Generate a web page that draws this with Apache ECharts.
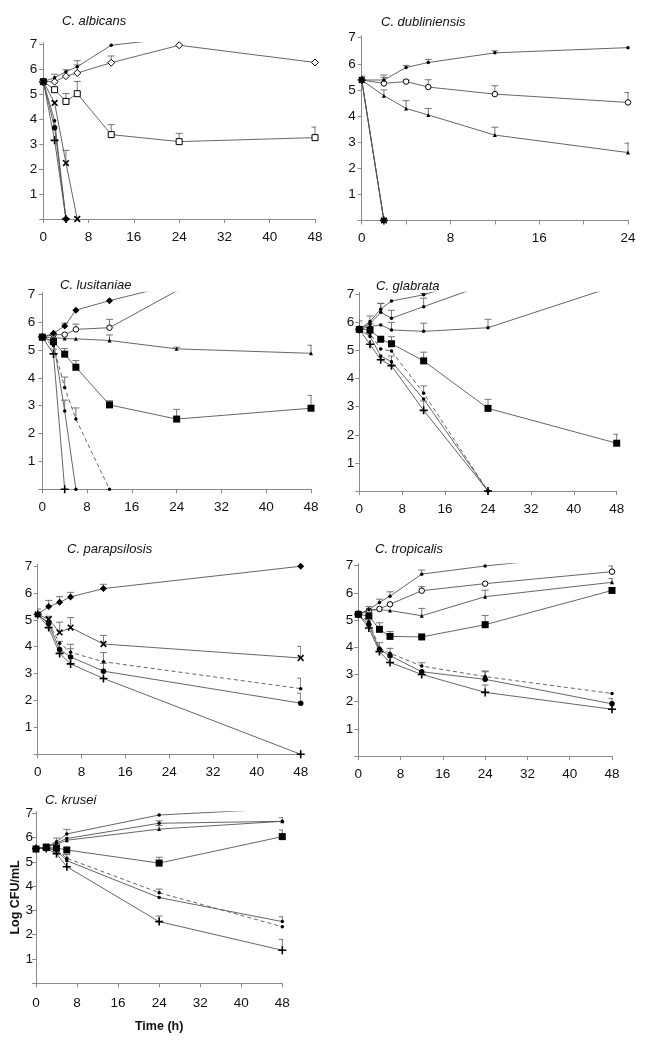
<!DOCTYPE html>
<html><head><meta charset="utf-8">
<script src="https://cdn.jsdelivr.net/npm/echarts@6/dist/echarts.min.js"></script>
<style>html,body{margin:0;padding:0;background:#fff}#c{width:652px;height:1043px}</style>
</head><body><div id="c"></div>
<script>
// ---------- DATA (Log CFU/mL vs time, h) ----------
// C. albicans
const albT = [0, 2, 4, 6, 12, 24, 48];
const albDot = [5.5, 5.66, 5.9, 6.1, 6.96, 7.27, 7.5];
const albDotErr = [null, null, 0.08, 0.24, null, null, null];
const albODia = [5.5, 5.5, 5.72, 5.85, 6.26, 6.96, 6.27];
const albODiaErr = [null, 0.3, null, 0.32, 0.27, null, null];
const albOSq = [5.5, 5.18, 4.71, 5.02, 3.38, 3.1, 3.26];
const albOSqErr = [null, null, 0.32, 0.49, 0.4, 0.33, 0.42];
const albX = [5.5, 4.65, 2.24, 0];
const albXErr = [null, null, 0.51, null];
const albCirc = [5.5, 3.66, 0];
const albDot2 = [5.5, 3.94, 0];
const albPlus = [5.5, 3.15, 0];

// C. dubliniensis
const dubT = [0, 2, 4, 6, 12, 24];
const dubDot = [5.38, 5.38, 5.86, 6.05, 6.42, 6.62];
const dubDotErr = [null, 0.19, 0.08, 0.12, 0.08, null];
const dubOCirc = [5.38, 5.25, 5.32, 5.11, 4.84, 4.52];
const dubOCircErr = [0.15, 0.23, 0.06, 0.28, 0.32, 0.38];
const dubTri = [5.38, 4.78, 4.29, 4.04, 3.27, 2.6];
const dubTriErr = [null, 0.22, 0.3, 0.25, 0.3, 0.36];
const dubX = [5.38, 0];
const dubPlus = [5.38, 0];
const dubCirc = [5.38, 0];

// C. lusitaniae
const lusT = [0, 2, 4, 6, 12, 24, 48];
const lusDia = [5.46, 5.6, 5.86, 6.43, 6.77, 7.37, 7.6];
const lusDiaErr = [null, null, 0.1, null, null, null, null];
const lusOCirc = [5.46, 5.55, 5.55, 5.74, 5.8, 7.12, 7.5];
const lusOCircErr = [null, null, null, 0.19, 0.3, null, null];
const lusTri = [5.46, 5.45, 5.41, 5.4, 5.34, 5.04, 4.88];
const lusTriErr = [null, null, null, null, 0.2, 0.06, 0.29];
const lusSq = [5.46, 5.3, 4.85, 4.38, 3.03, 2.52, 2.91];
const lusSqErr = [null, null, 0.2, 0.24, 0.15, 0.35, 0.46];
const lusPlus = [5.46, 4.86, 0];
const lusPlusErr = [null, 0.17, null];
const lusDot = [5.46, 5.3, 2.81, 0];
const lusDotErr = [null, null, 0.39, null];
const lusDash = [5.46, 5.15, 3.65, 2.52, 0];
const lusDashErr = [null, null, 0.38, 0.4, null];

// C. glabrata
const glaT = [0, 2, 4, 6, 12, 24, 48];
const glaDotA = [5.75, 6.03, 6.47, 6.76, 6.98, 7.7, 8.0];
const glaDotAErr = [null, 0.2, 0.2, null, 0.05, null, null];
const glaDotB = [5.75, 5.95, 6.36, 6.15, 6.56, 7.38, 7.6];
const glaDotBErr = [null, null, 0.32, 0.28, 0.3, null, null];
const glaDotC = [5.75, 5.85, 5.91, 5.73, 5.68, 5.81, 7.31];
const glaDotCErr = [null, null, null, 0.27, 0.29, 0.3, null];
const glaSq = [5.75, 5.73, 5.4, 5.24, 4.63, 2.94, 1.7];
const glaSqErr = [0.3, 0.22, null, 0.25, 0.31, 0.32, 0.32];
const glaDash = [5.75, 5.6, 5.05, 4.98, 3.48, 0];
const glaDashErr = [null, null, null, null, 0.26, null];
const glaDot = [5.75, 5.5, 4.8, 4.6, 3.27, 0];
const glaDotErr = [null, null, null, 0.2, null, null];
const glaPlus = [5.75, 5.22, 4.67, 4.46, 2.87, 0];
const glaPlusErr = [null, null, null, null, 0.33, null];

// C. parapsilosis
const parT = [0, 2, 4, 6, 12, 48];
const parDia = [5.2, 5.49, 5.65, 5.85, 6.16, 6.99];
const parDiaErr = [0.2, 0.23, 0.21, 0.17, 0.16, null];
const parX = [5.2, 5.02, 4.53, 4.71, 4.1, 3.58];
const parXErr = [null, null, 0.38, 0.37, 0.32, 0.43];
const parDash = [5.2, 4.88, 4.13, 3.79, 3.44, 2.44];
const parDashErr = [null, 0.25, null, 0.3, 0.34, 0.39];
const parCirc = [5.2, 4.86, 3.9, 3.62, 3.09, 1.9];
const parCircErr = [null, null, 0.3, 0.3, 0.29, 0.37];
const parPlus = [5.2, 4.71, 3.75, 3.36, 2.82, 0];

// C. tropicalis
const troT = [0, 2, 4, 6, 12, 24, 48];
const troDot = [5.21, 5.38, 5.65, 5.88, 6.69, 6.99, 7.46];
const troDotErr = [null, null, 0.12, 0.16, 0.15, null, null];
const troOCirc = [5.21, 5.35, 5.41, 5.58, 6.08, 6.34, 6.78];
const troOCircErr = [null, 0.15, null, null, 0.15, null, 0.21];
const troTri = [5.21, 5.37, 5.38, 5.35, 5.16, 5.86, 6.39];
const troTriErr = [null, null, null, null, 0.27, 0.24, 0.14];
const troSq = [5.21, 5.15, 4.66, 4.4, 4.38, 4.83, 6.09];
const troSqErr = [null, null, 0.24, 0.18, null, 0.34, null];
const troDash = [5.21, 4.95, 3.97, 3.78, 3.31, 2.92, 2.3];
const troDashErr = [null, null, 0.2, null, 0.12, 0.21, null];
const troCirc = [5.21, 4.84, 3.92, 3.69, 3.1, 2.82, 1.92];
const troCircErr = [null, null, null, 0.27, null, 0.28, 0.2];
const troPlus = [5.21, 4.71, 3.84, 3.44, 3.0, 2.34, 1.72];
const troPlusErr = [null, null, null, null, null, 0.27, null];

// C. krusei
const kruT = [0, 2, 4, 6, 24, 48];
const kruDotA = [5.55, 5.62, 5.83, 6.15, 6.93, 7.19];
const kruDotAErr = [null, null, 0.15, 0.19, null, null];
const kruDotB = [5.55, 5.6, 5.78, 5.96, 6.59, 6.67];
const kruDotBErr = [null, null, null, null, 0.1, 0.15];
const kruTri = [5.55, 5.6, 5.72, 5.89, 6.35, 6.67];
const kruTriErr = [null, 0.15, null, null, 0.15, null];
const kruSq = [5.53, 5.59, 5.57, 5.49, 4.95, 6.04];
const kruSqErr = [null, 0.1, 0.2, null, 0.24, 0.27];
const kruDash = [5.55, 5.58, 5.5, 5.15, 3.73, 2.33];
const kruDashErr = [null, null, null, 0.15, 0.15, null];
const kruDot = [5.55, 5.58, 5.45, 5.05, 3.53, 2.54];
const kruDotErr = [null, null, null, null, null, 0.2];
const kruPlus = [5.55, 5.55, 5.34, 4.8, 2.54, 1.36];
const kruPlusErr = [null, null, null, null, 0.23, 0.45];

const yTickValues = [0, 1, 2, 3, 4, 5, 6, 7];
const yLabelValues = [1, 2, 3, 4, 5, 6, 7];

// ---------- STYLE / LAYOUT ----------
const PLUS = 'path://M4,0H6V4H10V6H6V10H4V6H0V4H4Z';
const SYM = {
  dot:   {symbol: 'circle', size: 3.5, fill: '#000'},
  tri:   {symbol: 'triangle', size: 4, fill: '#000'},
  sq:    {symbol: 'rect', size: 7, fill: '#000'},
  osq:   {symbol: 'rect', size: 6, fill: '#fff'},
  dia:   {symbol: 'diamond', size: 7, fill: '#000'},
  odia:  {symbol: 'diamond', size: 7, fill: '#fff'},
  circ:  {symbol: 'circle', size: 5.5, fill: '#000'},
  ocirc: {symbol: 'circle', size: 5.5, fill: '#fff'},
  x:     {symbol: PLUS, size: 8, fill: '#000', rotate: 45},
  plus:  {symbol: PLUS, size: 8, fill: '#000'}
};
const YMAX = 7.07;

const panels = [
  {title: 'C. albicans', tl: [57, 10], grid: [43.3, 42.5, 271.7, 176.5], xmax: 48, xint: 8, lm: 6, t: albT,
   s: [['osq', albOSq, albOSqErr], ['x', albX, albXErr], ['dot', albDot2, null], ['plus', albPlus, null],
       ['odia', albODia, albODiaErr], ['dot', albDot, albDotErr], ['circ', albCirc, null]]},
  {title: 'C. dubliniensis', tl: [376, 11], grid: [361.7, 35.9, 266.3, 184.5], xmax: 24, xint: 4, lm: 6, t: dubT,
   s: [['plus', dubPlus, null], ['x', dubX, null], ['tri', dubTri, dubTriErr],
       ['ocirc', dubOCirc, dubOCircErr], ['dot', dubDot, dubDotErr], ['circ', dubCirc, null]]},
  {title: 'C. lusitaniae', tl: [55, 274], grid: [42.3, 292.3, 268.7, 197], xmax: 48, xint: 8, lm: 7, t: lusT,
   s: [['dot', lusDash, lusDashErr, true], ['dot', lusDot, lusDotErr], ['plus', lusPlus, lusPlusErr],
       ['tri', lusTri, lusTriErr], ['ocirc', lusOCirc, lusOCircErr], ['dia', lusDia, lusDiaErr], ['sq', lusSq, lusSqErr]]},
  {title: 'C. glabrata', tl: [371, 275], grid: [359.3, 292.3, 257.4, 198.7], xmax: 48, xint: 8, lm: 5, t: glaT,
   s: [['dot', glaDash, glaDashErr, true], ['dot', glaDot, glaDotErr], ['plus', glaPlus, glaPlusErr],
       ['dot', glaDotC, glaDotCErr], ['dot', glaDotB, glaDotBErr], ['dot', glaDotA, glaDotAErr], ['sq', glaSq, glaSqErr]]},
  {title: 'C. parapsilosis', tl: [62, 538], grid: [37.7, 564.1, 263, 190.2], xmax: 48, xint: 8, lm: 5.4, t: parT,
   s: [['plus', parPlus, null], ['dot', parDash, parDashErr, true],
       ['x', parX, parXErr], ['dia', parDia, parDiaErr], ['circ', parCirc, parCircErr]]},
  {title: 'C. tropicalis', tl: [370, 538], grid: [358.3, 563.8, 253.7, 192.2], xmax: 48, xint: 8, lm: 5, t: troT,
   s: [['plus', troPlus, troPlusErr], ['circ', troCirc, troCircErr], ['dot', troDash, troDashErr, true],
       ['tri', troTri, troTriErr], ['ocirc', troOCirc, troOCircErr], ['dot', troDot, troDotErr], ['sq', troSq, troSqErr]]},
  {title: 'C. krusei', tl: [40, 789], grid: [36, 811.6, 246.3, 171.7], xmax: 48, xint: 8, lm: 3, t: kruT, last: true,
   s: [['plus', kruPlus, kruPlusErr], ['dot', kruDot, kruDotErr], ['dot', kruDash, kruDashErr, true],
       ['tri', kruTri, kruTriErr], ['dot', kruDotB, kruDotBErr], ['dot', kruDotA, kruDotAErr], ['sq', kruSq, kruSqErr]]}
];

const FONT = 'Liberation Sans, Arial, sans-serif';
const AX = '#8a8a8a';
const option = {animation: false, backgroundColor: '#fff', title: [], grid: [], xAxis: [], yAxis: [], series: []};

panels.forEach((p, i) => {
  option.title.push({text: p.title, left: p.tl[0], top: p.tl[1],
    textStyle: {fontFamily: FONT, fontStyle: 'italic', fontWeight: 'normal', fontSize: 13, color: '#111'}});
  option.grid.push({left: p.grid[0], top: p.grid[1], width: p.grid[2], height: p.grid[3], containLabel: false});
  const xa = {gridIndex: i, type: 'value', min: 0, max: p.xmax, interval: p.xint,
    axisLine: {show: true, lineStyle: {color: AX, width: 1}},
    axisTick: {show: true, length: 4, lineStyle: {color: AX}},
    splitLine: {show: false},
    axisLabel: {margin: p.last ? 13 : 11, fontFamily: FONT, fontSize: 13.5, color: '#111',
      formatter: v => (v % 8 === 0 ? String(v) : '')}};
  if (p.last) {
    xa.name = 'Time (h)'; xa.nameLocation = 'middle'; xa.nameGap = 37;
    xa.nameTextStyle = {fontFamily: FONT, fontWeight: 'bold', fontSize: 12.5, color: '#111'};
  }
  option.xAxis.push(xa);
  const ya = {gridIndex: i, type: 'value', min: 0, max: YMAX, interval: 1,
    axisLine: {show: true, lineStyle: {color: AX, width: 1}},
    axisTick: {show: true, length: 4, lineStyle: {color: AX}, customValues: yTickValues},
    splitLine: {show: false},
    axisLabel: {margin: p.lm, fontFamily: FONT, fontSize: 13.5, color: '#111', customValues: yLabelValues,
      formatter: v => (v >= 1 && Math.abs(v - Math.round(v)) < 1e-6 ? String(Math.round(v)) : '')}};
  if (p.last) {
    ya.name = 'Log CFU/mL'; ya.nameLocation = 'middle'; ya.nameGap = 13; ya.nameRotate = 90;
    ya.nameTextStyle = {fontFamily: FONT, fontWeight: 'bold', fontSize: 12.5, color: '#111'};
  }
  option.yAxis.push(ya);

  const errItems = [];
  p.s.forEach(([sk, ys, errs, dashed]) => {
    const st = SYM[sk];
    const data = [];
    ys.forEach((y, k) => { if (y !== null && y !== undefined) data.push([p.t[k], y]); });
    if (errs) errs.forEach((e, k) => { if (e !== null && ys[k] !== undefined) errItems.push([p.t[k], ys[k], ys[k] + e]); });
    option.series.push({
      type: 'line', xAxisIndex: i, yAxisIndex: i, data: data, clip: true,
      symbol: st.symbol, symbolSize: st.size, symbolRotate: st.rotate || 0, showAllSymbol: true,
      lineStyle: {color: '#555', width: 0.9, type: dashed ? [4, 3] : 'solid'},
      itemStyle: {color: st.fill, borderColor: '#000', borderWidth: st.fill === '#fff' ? 1 : 0},
      emphasis: {disabled: true}, silent: true, z: 3
    });
  });
  option.series.push({
    type: 'custom', xAxisIndex: i, yAxisIndex: i, data: errItems, clip: true, silent: true, z: 2,
    encode: {x: 0, y: [1, 2]},
    renderItem: (params, api) => {
      const a = api.coord([api.value(0), api.value(1)]);
      const b = api.coord([api.value(0), api.value(2)]);
      const ls = {stroke: '#666', lineWidth: 0.9};
      return {type: 'group', children: [
        {type: 'line', shape: {x1: a[0], y1: a[1], x2: b[0], y2: b[1]}, style: ls},
        {type: 'line', shape: {x1: b[0] - 3.5, y1: b[1], x2: b[0] + 3.5, y2: b[1]}, style: ls}
      ]};
    }
  });
});

const chart = echarts.init(document.getElementById('c'), null, {renderer: 'canvas'});
chart.setOption(option);
</script></body></html>
